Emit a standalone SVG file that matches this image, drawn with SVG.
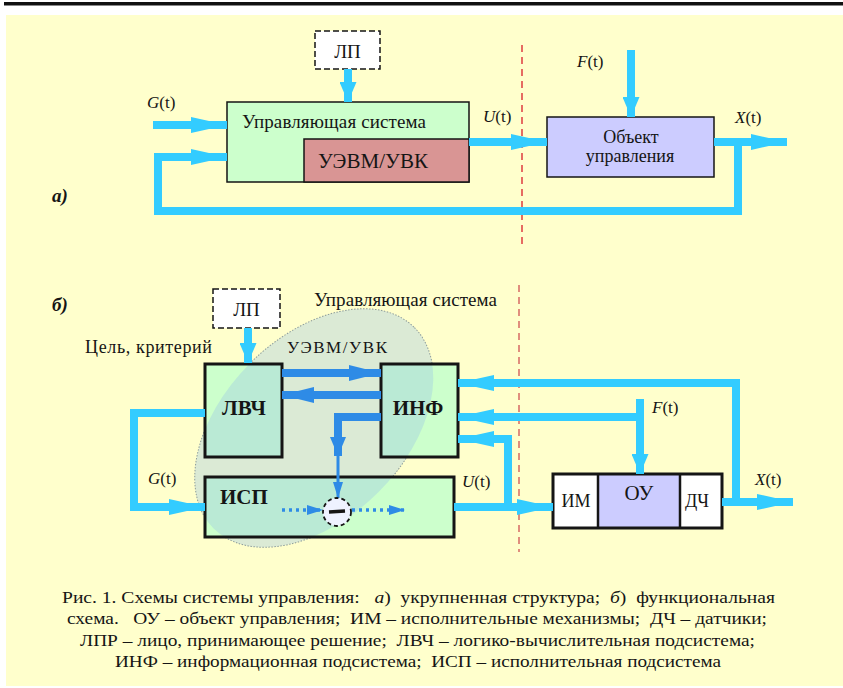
<svg xmlns="http://www.w3.org/2000/svg" width="843" height="688" viewBox="0 0 843 688">
<style>
  text { fill: #151515; font-family: "Liberation Serif", "Times New Roman", serif; }
  .lbl { font-size: 17px; }
  .it { font-style: italic; }
  .bd { font-weight: bold; }
  .box { stroke: #151515; stroke-width: 1.5; }
  .tbox { stroke: #151515; stroke-width: 3; }
  .green { fill: #CCFFCC; }
  .blue { fill: #CCCCFF; }
  .white { fill: #FFFFFF; }
  .pink { fill: #D99594; }
  .lp { fill: #FFFFFF; stroke: #151515; stroke-width: 1.5; stroke-dasharray: 6 3; }
  .c { fill: none; stroke: #33CCFF; stroke-width: 8; stroke-linejoin: miter; }
  .d { fill: none; stroke: #2E8BE6; stroke-width: 8; stroke-linejoin: miter; }
  .dt { fill: none; stroke: #2E8BE6; stroke-width: 3; }
  .dot { fill: none; stroke: #2E8BE6; stroke-width: 3.5; stroke-dasharray: 3 4; }
  .red { fill: none; stroke: #E04848; stroke-width: 1.6; stroke-dasharray: 7 5; }
  .red2 { fill: none; stroke: #D9736A; stroke-width: 1.6; stroke-dasharray: 7 5; }
  .cap { font-size: 17.5px; }
  .tint { fill: #9BC5E7; fill-opacity: 0.36; }
</style>
<defs>
  <marker id="ah" markerUnits="userSpaceOnUse" markerWidth="36" markerHeight="16" refX="36" refY="8" orient="auto"><path d="M0,0 L36,8 L0,16 z" fill="#33CCFF"/></marker>
  <marker id="ahs" markerUnits="userSpaceOnUse" markerWidth="20" markerHeight="17" refX="20" refY="8.5" orient="auto"><path d="M0,0 L20,8.5 L0,17 z" fill="#33CCFF"/></marker>
  <marker id="ahd" markerUnits="userSpaceOnUse" markerWidth="32" markerHeight="16" refX="32" refY="8" orient="auto"><path d="M0,0 L32,8 L0,16 z" fill="#2E8BE6"/></marker>
  <marker id="ahds" markerUnits="userSpaceOnUse" markerWidth="19" markerHeight="16" refX="19" refY="8" orient="auto"><path d="M0,0 L19,8 L0,16 z" fill="#2E8BE6"/></marker>
  <marker id="ahdt" markerUnits="userSpaceOnUse" markerWidth="16" markerHeight="10" refX="16" refY="5" orient="auto"><path d="M0,0 L16,5 L0,10 z" fill="#2E8BE6"/></marker>
  <clipPath id="ellClip"><ellipse cx="314" cy="428" rx="142" ry="91" transform="rotate(-45 314 428)"/></clipPath>
</defs>

<rect x="0" y="0" width="843" height="688" fill="#FFFFFF"/>
<line x1="4" y1="3.5" x2="843" y2="3.5" stroke="#111" stroke-width="3"/>
<line x1="4" y1="5.5" x2="843" y2="5.5" stroke="#888" stroke-width="1"/>
<rect x="6" y="15" width="837" height="671" fill="#FFFFCC"/>

<!-- dividers -->
<line class="red" x1="522" y1="45" x2="522" y2="245"/>
<line class="red2" x1="519" y1="285" x2="519" y2="552"/>

<!-- part a nodes -->
<g id="a-lp">
  <rect class="lp" x="315" y="31" width="65" height="38"/>
  <text x="347.5" y="58" font-size="19" text-anchor="middle">ЛП</text>
</g>
<g id="a-control">
  <rect class="box green" x="227" y="102" width="242" height="80"/>
  <text x="242" y="128" font-size="19" textLength="184">Управляющая система</text>
  <rect class="box pink" x="304" y="139" width="165" height="43"/>
  <text x="318" y="168" font-size="21" textLength="110">УЭВМ/УВК</text>
</g>
<g id="a-object">
  <rect class="box blue" x="547" y="117" width="167" height="60"/>
  <text x="631" y="143" font-size="18" text-anchor="middle">Объект</text>
  <text x="630" y="162" font-size="18" text-anchor="middle">управления</text>
</g>

<!-- part b: УЭВМ/УВК region -->
<g id="b-uevm">
  <ellipse cx="314" cy="428" rx="142" ry="91" transform="rotate(-45 314 428)" fill="#9BC5E7" fill-opacity="0.36" stroke="#8C9C9C" stroke-width="1" stroke-dasharray="1.5 1.5"/>
</g>

<!-- part b nodes -->
<g id="b-lp">
  <rect class="lp" x="213" y="289" width="67" height="39"/>
  <text x="246.5" y="316" font-size="19" text-anchor="middle">ЛП</text>
</g>
<g id="b-lvch">
  <rect class="green" x="205" y="364" width="77" height="93"/>
  <rect class="tint" x="205" y="364" width="77" height="93" clip-path="url(#ellClip)"/>
  <rect class="tbox" fill="none" x="205" y="364" width="77" height="93"/>
  <text x="244" y="415" font-size="21" class="bd" text-anchor="middle">ЛВЧ</text>
</g>
<g id="b-inf">
  <rect class="green" x="381" y="364" width="77" height="93"/>
  <rect class="tint" x="381" y="364" width="77" height="93" clip-path="url(#ellClip)"/>
  <rect class="tbox" fill="none" x="381" y="364" width="77" height="93"/>
  <text x="418" y="415" font-size="21" class="bd" text-anchor="middle">ИНФ</text>
</g>
<g id="b-isp">
  <rect class="green" x="205" y="477" width="249" height="60"/>
  <rect class="tint" x="205" y="477" width="249" height="60" clip-path="url(#ellClip)"/>
  <rect class="tbox" fill="none" x="205" y="477" width="249" height="60"/>
  <text x="220" y="504" font-size="21" class="bd">ИСП</text>
</g>
<g id="b-plant">
  <rect class="white" x="553" y="474" width="45" height="54"/>
  <rect class="blue" x="598" y="474" width="82" height="54"/>
  <rect class="white" x="680" y="474" width="42" height="54"/>
  <rect class="tbox" fill="none" x="553" y="474" width="169" height="54"/>
  <line x1="598" y1="474" x2="598" y2="528" stroke="#151515" stroke-width="2.5"/>
  <line x1="680" y1="474" x2="680" y2="528" stroke="#151515" stroke-width="2.5"/>
  <text x="576" y="507" font-size="18" text-anchor="middle">ИМ</text>
  <text x="639" y="500" font-size="21" text-anchor="middle">ОУ</text>
  <text x="697" y="507" font-size="18" text-anchor="middle">ДЧ</text>
</g>

<!-- connectors -->
<g id="connectors">
  <!-- a -->
  <path class="c" d="M348,69 V102" marker-end="url(#ahs)"/>
  <path class="c" d="M153,125 H227" marker-end="url(#ah)"/>
  <path class="c" d="M738,142 V211 H158 V157 H227" marker-end="url(#ah)"/>
  <path class="c" d="M469,142 H547" marker-end="url(#ah)"/>
  <path class="c" d="M631,50 V117" marker-end="url(#ahs)"/>
  <path class="c" d="M714,142 H787" marker-end="url(#ah)"/>
  <!-- b -->
  <path class="c" d="M248,328 V363" marker-end="url(#ahs)"/>
  <path class="c" d="M205,413 H134 V507 H205" marker-end="url(#ah)"/>
  <path class="c" d="M454,507 H553" marker-end="url(#ah)"/>
  <path class="c" d="M508,507 V439 H458" marker-end="url(#ah)"/>
  <path class="c" d="M736,502 V383 H458" marker-end="url(#ah)"/>
  <path class="c" d="M722,502 H793" marker-end="url(#ah)"/>
  <path class="c" d="M640,399 V474" marker-end="url(#ahs)"/>
  <path class="c" d="M640,417 H458" marker-end="url(#ah)"/>
  <!-- inner (УЭВМ/УВК) -->
  <path class="d" d="M282,373 H381" marker-end="url(#ahd)"/>
  <path class="d" d="M381,395 H282" marker-end="url(#ahd)"/>
  <path class="d" d="M381,417 H338 V456" marker-end="url(#ahds)"/>
  <path class="dt" d="M338,455 V498" marker-end="url(#ahdt)"/>
  <path class="dot" d="M282,510 H323" marker-end="url(#ahdt)"/>
  <path class="dot" d="M352,510 H405" marker-end="url(#ahdt)"/>
</g>

<g id="b-sum">
  <circle cx="337" cy="512" r="14" fill="#EEF2FF" stroke="#151515" stroke-width="1.8" stroke-dasharray="4 3"/>
  <line x1="329" y1="512" x2="345" y2="511" stroke="#151515" stroke-width="3.5"/>
</g>

<!-- labels -->
<g id="labels">
  <text x="147" y="108" class="lbl"><tspan class="it">G</tspan>(t)</text>
  <text x="483" y="122" class="lbl"><tspan class="it">U</tspan>(t)</text>
  <text x="577" y="67" class="lbl"><tspan class="it">F</tspan>(t)</text>
  <text x="735" y="123" class="lbl"><tspan class="it">X</tspan>(t)</text>
  <text x="52" y="202" font-size="19" class="it bd">а)</text>

  <text x="52" y="311" font-size="19" class="it bd">б)</text>
  <text x="314" y="306" font-size="19" textLength="183">Управляющая система</text>
  <text x="85" y="353" font-size="18" textLength="127">Цель, критерий</text>
  <text x="287" y="353" font-size="17" textLength="100">УЭВМ/УВК</text>
  <text x="148" y="484" class="lbl"><tspan class="it">G</tspan>(t)</text>
  <text x="462" y="487" class="lbl"><tspan class="it">U</tspan>(t)</text>
  <text x="652" y="413" class="lbl"><tspan class="it">F</tspan>(t)</text>
  <text x="755" y="485" class="lbl"><tspan class="it">X</tspan>(t)</text>
</g>

<!-- caption -->
<g id="caption">
  <text class="cap" x="62" y="603" textLength="713" lengthAdjust="spacingAndGlyphs" xml:space="preserve">Рис. 1. Схемы системы управления:   <tspan class="it">а</tspan>)  укрупненная структура;  <tspan class="it">б</tspan>)  функциональная</text>
  <text class="cap" x="67" y="624" textLength="700" lengthAdjust="spacingAndGlyphs" xml:space="preserve">схема.   ОУ – объект управления;  ИМ – исполнительные механизмы;  ДЧ – датчики;</text>
  <text class="cap" x="80" y="646" textLength="675" lengthAdjust="spacingAndGlyphs" xml:space="preserve">ЛПР – лицо, принимающее решение;  ЛВЧ – логико-вычислительная подсистема;</text>
  <text class="cap" x="115" y="667" textLength="606" lengthAdjust="spacingAndGlyphs" xml:space="preserve">ИНФ – информационная подсистема;  ИСП – исполнительная подсистема</text>
</g>
</svg>
